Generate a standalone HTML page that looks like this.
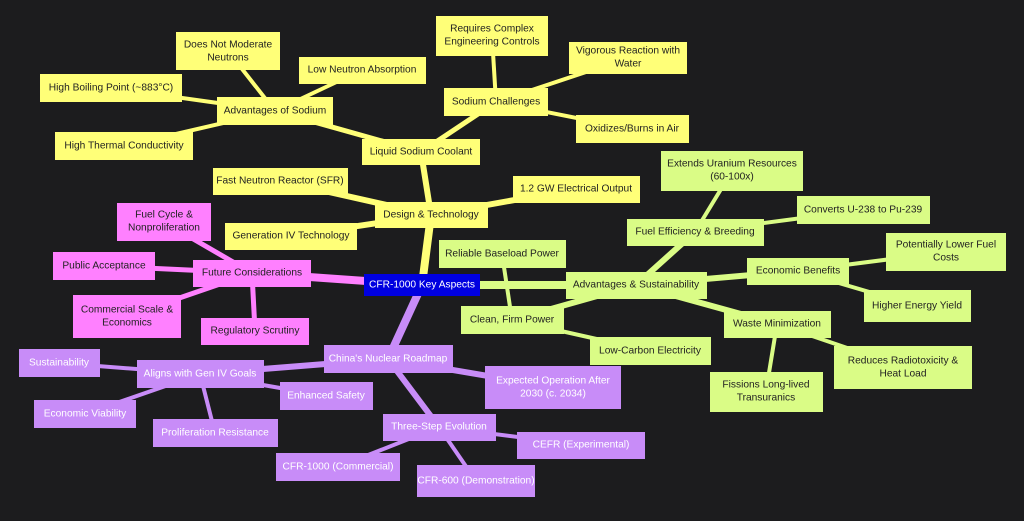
<!DOCTYPE html>
<html><head><meta charset="utf-8"><style>
html,body{margin:0;padding:0;background:#1c1c1e;}
svg{display:block}
text{font-family:"Liberation Sans",sans-serif;font-size:10.2px;text-anchor:middle;dominant-baseline:central;fill:#222}
.w text,text.w{fill:#fff}
</style></head><body>
<svg width="1024" height="521" viewBox="0 0 1024 521">
<rect width="1024" height="521" fill="#1c1c1e"/>
<g stroke-linecap="round">
<g stroke="#ffff78">
<line x1="422" y1="285" x2="431" y2="215" stroke-width="8"/>
<line x1="431" y1="215" x2="421" y2="152" stroke-width="6"/>
<line x1="431" y1="215" x2="280" y2="181" stroke-width="6"/>
<line x1="431" y1="215" x2="576" y2="189" stroke-width="6"/>
<line x1="431" y1="215" x2="291" y2="236" stroke-width="6"/>
<line x1="421" y1="152" x2="275" y2="111" stroke-width="5"/>
<line x1="421" y1="152" x2="496" y2="102" stroke-width="5"/>
<line x1="496" y1="102" x2="492" y2="36" stroke-width="4"/>
<line x1="496" y1="102" x2="628" y2="58" stroke-width="4"/>
<line x1="496" y1="102" x2="632" y2="129" stroke-width="4"/>
<line x1="275" y1="111" x2="228" y2="51" stroke-width="4"/>
<line x1="275" y1="111" x2="362" y2="70" stroke-width="4"/>
<line x1="275" y1="111" x2="111" y2="88" stroke-width="4"/>
<line x1="275" y1="111" x2="124" y2="146" stroke-width="4"/>
</g>
<g stroke="#dafc86">
<line x1="422" y1="285" x2="636" y2="285" stroke-width="8"/>
<line x1="636" y1="285" x2="695" y2="232" stroke-width="6"/>
<line x1="636" y1="285" x2="798" y2="271" stroke-width="6"/>
<line x1="636" y1="285" x2="777" y2="324" stroke-width="6"/>
<line x1="636" y1="285" x2="512" y2="320" stroke-width="6"/>
<line x1="695" y1="232" x2="732" y2="171" stroke-width="4"/>
<line x1="695" y1="232" x2="863" y2="210" stroke-width="4"/>
<line x1="798" y1="271" x2="946" y2="252" stroke-width="4"/>
<line x1="798" y1="271" x2="917" y2="306" stroke-width="4"/>
<line x1="777" y1="324" x2="903" y2="367" stroke-width="4"/>
<line x1="777" y1="324" x2="766" y2="391" stroke-width="4"/>
<line x1="512" y1="320" x2="502" y2="254" stroke-width="4"/>
<line x1="512" y1="320" x2="650" y2="351" stroke-width="4"/>
</g>
<g stroke="#ff80ff">
<line x1="422" y1="285" x2="252" y2="273" stroke-width="8"/>
<line x1="252" y1="273" x2="164" y2="222" stroke-width="5"/>
<line x1="252" y1="273" x2="104" y2="266" stroke-width="5"/>
<line x1="252" y1="273" x2="127" y2="316" stroke-width="5"/>
<line x1="252" y1="273" x2="255" y2="331" stroke-width="5"/>
</g>
<g stroke="#c88cf8">
<line x1="422" y1="285" x2="388" y2="359" stroke-width="8"/>
<line x1="388" y1="359" x2="200" y2="374" stroke-width="6"/>
<line x1="388" y1="359" x2="553" y2="387" stroke-width="6"/>
<line x1="388" y1="359" x2="439" y2="427" stroke-width="6"/>
<line x1="200" y1="374" x2="59" y2="363" stroke-width="4"/>
<line x1="200" y1="374" x2="85" y2="414" stroke-width="4"/>
<line x1="200" y1="374" x2="326" y2="396" stroke-width="4"/>
<line x1="200" y1="374" x2="215" y2="433" stroke-width="4"/>
<line x1="439" y1="427" x2="581" y2="445" stroke-width="4"/>
<line x1="439" y1="427" x2="338" y2="467" stroke-width="4"/>
<line x1="439" y1="427" x2="476" y2="481" stroke-width="4"/>
</g>
</g>
<g fill="#ffff78">
<rect x="375" y="202" width="113" height="26"/><text x="431" y="215">Design &amp; Technology</text>
<rect x="362" y="139" width="118" height="26"/><text x="421" y="152">Liquid Sodium Coolant</text>
<rect x="217" y="97" width="116" height="28"/><text x="275" y="111">Advantages of Sodium</text>
<rect x="444" y="88" width="104" height="28"/><text x="496" y="102">Sodium Challenges</text>
<rect x="436" y="16" width="112" height="40"/><text x="492" y="29">Requires Complex</text><text x="492" y="42">Engineering Controls</text>
<rect x="569" y="42" width="118" height="32"/><text x="628" y="51">Vigorous Reaction with</text><text x="628" y="64">Water</text>
<rect x="576" y="115" width="113" height="28"/><text x="632" y="129">Oxidizes/Burns in Air</text>
<rect x="176" y="32" width="104" height="38"/><text x="228" y="45">Does Not Moderate</text><text x="228" y="58">Neutrons</text>
<rect x="299" y="57" width="127" height="27"/><text x="362" y="70">Low Neutron Absorption</text>
<rect x="40" y="74" width="142" height="28"/><text x="111" y="88">High Boiling Point (~883°C)</text>
<rect x="55" y="132" width="138" height="28"/><text x="124" y="146">High Thermal Conductivity</text>
<rect x="213" y="168" width="135" height="27"/><text x="280" y="181">Fast Neutron Reactor (SFR)</text>
<rect x="513" y="176" width="127" height="27"/><text x="576" y="189">1.2 GW Electrical Output</text>
<rect x="225" y="223" width="132" height="27"/><text x="291" y="236">Generation IV Technology</text>
</g>
<g fill="#dafc86">
<rect x="566" y="272" width="141" height="27"/><text x="636" y="285">Advantages &amp; Sustainability</text>
<rect x="627" y="219" width="137" height="27"/><text x="695" y="232">Fuel Efficiency &amp; Breeding</text>
<rect x="661" y="151" width="142" height="40"/><text x="732" y="164">Extends Uranium Resources</text><text x="732" y="177">(60-100x)</text>
<rect x="797" y="196" width="133" height="28"/><text x="863" y="210">Converts U-238 to Pu-239</text>
<rect x="747" y="258" width="102" height="27"/><text x="798" y="271">Economic Benefits</text>
<rect x="886" y="233" width="120" height="38"/><text x="946" y="245">Potentially Lower Fuel</text><text x="946" y="258">Costs</text>
<rect x="864" y="290" width="107" height="32"/><text x="917" y="306">Higher Energy Yield</text>
<rect x="724" y="311" width="107" height="27"/><text x="777" y="324">Waste Minimization</text>
<rect x="834" y="346" width="138" height="43"/><text x="903" y="361">Reduces Radiotoxicity &amp;</text><text x="903" y="374">Heat Load</text>
<rect x="710" y="372" width="113" height="40"/><text x="766" y="385">Fissions Long-lived</text><text x="766" y="398">Transuranics</text>
<rect x="439" y="240" width="127" height="28"/><text x="502" y="254">Reliable Baseload Power</text>
<rect x="461" y="306" width="103" height="28"/><text x="512" y="320">Clean, Firm Power</text>
<rect x="590" y="337" width="121" height="28"/><text x="650" y="351">Low-Carbon Electricity</text>
</g>
<g fill="#ff80ff">
<rect x="193" y="260" width="118" height="27"/><text x="252" y="273">Future Considerations</text>
<rect x="117" y="203" width="94" height="38"/><text x="164" y="215">Fuel Cycle &amp;</text><text x="164" y="228">Nonproliferation</text>
<rect x="53" y="252" width="102" height="28"/><text x="104" y="266">Public Acceptance</text>
<rect x="73" y="295" width="108" height="43"/><text x="127" y="310">Commercial Scale &amp;</text><text x="127" y="323">Economics</text>
<rect x="201" y="318" width="108" height="27"/><text x="255" y="331">Regulatory Scrutiny</text>
</g>
<g fill="#c88cf8" class="w">
<rect x="324" y="345" width="129" height="28"/><text x="388" y="359">China's Nuclear Roadmap</text>
<rect x="137" y="360" width="127" height="28"/><text x="200" y="374">Aligns with Gen IV Goals</text>
<rect x="19" y="349" width="81" height="28"/><text x="59" y="363">Sustainability</text>
<rect x="34" y="400" width="102" height="28"/><text x="85" y="414">Economic Viability</text>
<rect x="280" y="382" width="93" height="28"/><text x="326" y="396">Enhanced Safety</text>
<rect x="153" y="419" width="125" height="28"/><text x="215" y="433">Proliferation Resistance</text>
<rect x="485" y="366" width="136" height="43"/><text x="553" y="381">Expected Operation After</text><text x="553" y="394">2030 (c. 2034)</text>
<rect x="383" y="414" width="113" height="27"/><text x="439" y="427">Three-Step Evolution</text>
<rect x="517" y="432" width="128" height="27"/><text x="581" y="445">CEFR (Experimental)</text>
<rect x="276" y="453" width="124" height="28"/><text x="338" y="467">CFR-1000 (Commercial)</text>
<rect x="417" y="465" width="118" height="32"/><text x="476" y="481">CFR-600 (Demonstration)</text>
</g>
<rect x="364" y="274" width="116" height="22" fill="#0000e0"/><text x="422" y="285" class="w">CFR-1000 Key Aspects</text>
</svg>
</body></html>
